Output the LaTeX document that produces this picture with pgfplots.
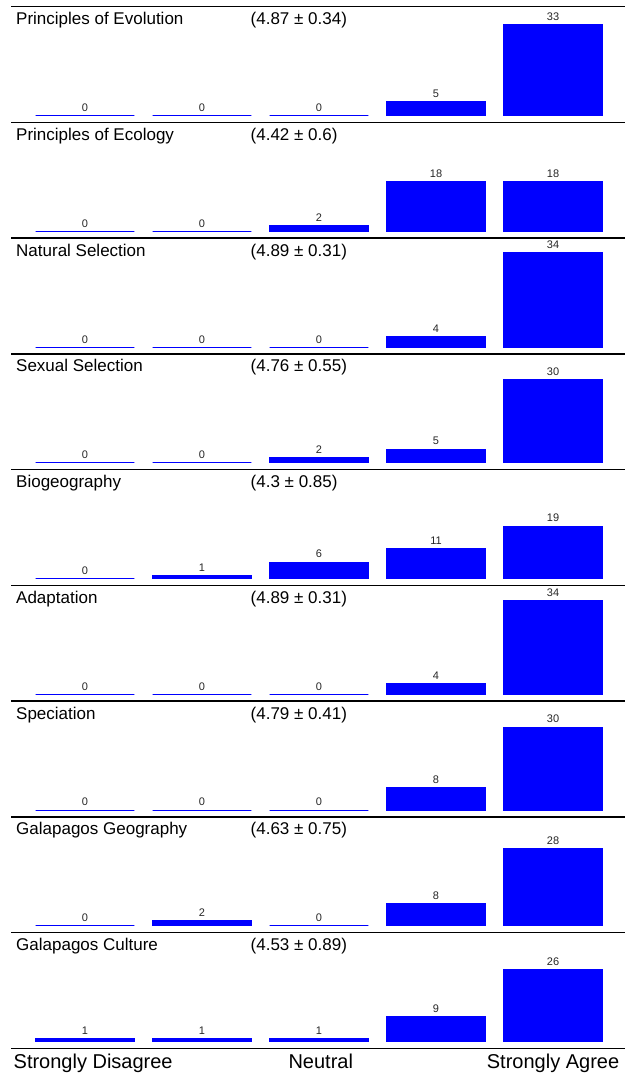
\documentclass[border=0pt]{standalone}
\usepackage{pgfplots}
\pgfplotsset{compat=1.18}
\usepackage{fontspec}
\setmainfont{Liberation Sans}
\definecolor{barblue}{RGB}{0,0,255}
\pgfplotsset{panel/.style={
  width=614pt, height=115.73pt, scale only axis, anchor=south west,
  xmin=-0.632, xmax=4.615, ymin=-2.42, ymax=39.36,
  hide axis, clip=false, ybar, bar width=98.7pt,
  /pgf/number format/assume math mode=true,
  nodes near coords,
  every node near coord/.append style={font=\fontsize{11}{13}\selectfont, inner sep=0pt, yshift=3.5pt, text=black!85},
}}
\newcommand{\ttl}[1]{\node[anchor=base west, font=\fontsize{17}{20}\selectfont, inner sep=0pt, xshift=5pt, yshift=-18pt] at (rel axis cs:0,1) {#1};}
\newcommand{\mn}[1]{\node[anchor=base west, font=\fontsize{17}{20}\selectfont, inner sep=0pt, xshift=239.5pt, yshift=-18pt] at (rel axis cs:0,1) {#1};}
\newcommand{\topline}{\draw[line width=1.5pt] (rel axis cs:0,1) -- (rel axis cs:1,1);}
\tikzset{barstyle/.style={fill=barblue, draw=barblue, line width=1pt}}
\begin{document}
\begin{tikzpicture}
\path[use as bounding box] (0,0) rectangle (625pt,1076pt);
\begin{axis}[panel, at={(11pt,953.57pt)}]
\addplot[barstyle] coordinates {(0,0) (1,0) (2,0) (3,5) (4,33)};
\topline \ttl{Principles of Evolution} \mn{(4.87 ± 0.34)}
\end{axis}
\begin{axis}[panel, at={(11pt,837.84pt)}]
\addplot[barstyle] coordinates {(0,0) (1,0) (2,2) (3,18) (4,18)};
\topline \ttl{Principles of Ecology} \mn{(4.42 ± 0.6)}
\end{axis}
\begin{axis}[panel, at={(11pt,722.11pt)}]
\addplot[barstyle] coordinates {(0,0) (1,0) (2,0) (3,4) (4,34)};
\topline \ttl{Natural Selection} \mn{(4.89 ± 0.31)}
\end{axis}
\begin{axis}[panel, at={(11pt,606.38pt)}]
\addplot[barstyle] coordinates {(0,0) (1,0) (2,2) (3,5) (4,30)};
\topline \ttl{Sexual Selection} \mn{(4.76 ± 0.55)}
\end{axis}
\begin{axis}[panel, at={(11pt,490.65pt)}]
\addplot[barstyle] coordinates {(0,0) (1,1) (2,6) (3,11) (4,19)};
\topline \ttl{Biogeography} \mn{(4.3 ± 0.85)}
\end{axis}
\begin{axis}[panel, at={(11pt,374.92pt)}]
\addplot[barstyle] coordinates {(0,0) (1,0) (2,0) (3,4) (4,34)};
\topline \ttl{Adaptation} \mn{(4.89 ± 0.31)}
\end{axis}
\begin{axis}[panel, at={(11pt,259.19pt)}]
\addplot[barstyle] coordinates {(0,0) (1,0) (2,0) (3,8) (4,30)};
\topline \ttl{Speciation} \mn{(4.79 ± 0.41)}
\end{axis}
\begin{axis}[panel, at={(11pt,143.46pt)}]
\addplot[barstyle] coordinates {(0,0) (1,2) (2,0) (3,8) (4,28)};
\topline \ttl{Galapagos Geography} \mn{(4.63 ± 0.75)}
\end{axis}
\begin{axis}[panel, at={(11pt,27.73pt)}]
\addplot[barstyle] coordinates {(0,1) (1,1) (2,1) (3,9) (4,26)};
\topline \ttl{Galapagos Culture} \mn{(4.53 ± 0.89)}
\draw[line width=1.5pt] (rel axis cs:0,0) -- (rel axis cs:1,0);
\node[anchor=base, font=\fontsize{20}{24}\selectfont, inner sep=0pt, yshift=-20pt] at (axis cs:0.07,-2.42) {Strongly Disagree};
\node[anchor=base, font=\fontsize{20}{24}\selectfont, inner sep=0pt, yshift=-20pt] at (axis cs:2.015,-2.42) {Neutral};
\node[anchor=base, font=\fontsize{20}{24}\selectfont, inner sep=0pt, yshift=-20pt] at (axis cs:4,-2.42) {Strongly Agree};
\end{axis}
\end{tikzpicture}
\end{document}
